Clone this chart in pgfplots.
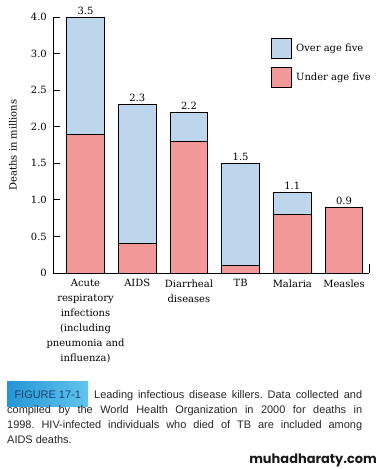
\documentclass[border=0pt]{standalone}
\usepackage{fontspec}
\setmainfont{DejaVu Serif}
\newfontfamily\capfont{Liberation Sans}
\newfontfamily\wmfont{Poppins}
\usepackage{pgfplots}
\usepackage{pgfplotstable}
\pgfplotsset{compat=1.18}
\definecolor{overblue}{HTML}{BDD6EC}
\definecolor{underpink}{HTML}{F29898}
\definecolor{figdark}{HTML}{2596D6}
\definecolor{figlight}{HTML}{62C4EE}
\definecolor{figtext}{HTML}{17457A}

\pgfplotstableread{
x under over total
0 1.9 1.6 3.5
1 0.4 1.9 2.3
2 1.8 0.4 2.2
3 0.1 1.4 1.5
4 0.8 0.3 1.1
5 0.9 0.0 0.9
}\deaths

\pgfplotsset{
  commonframe/.style={
    at={(53bp,196bp)}, anchor=south west,
    scale only axis, width=316bp, height=256bp,
    xmin=-0.629, xmax=5.483, ymin=0, ymax=3.5,
  }
}

\begin{document}
\begin{tikzpicture}
\path[use as bounding box] (0bp,0bp) rectangle (384bp,469bp);
\begin{axis}[
  commonframe,
  ybar stacked, bar width=37.5bp,
  axis x line*=bottom, axis y line*=left,
  axis line style={line width=0.9bp, black},
  xtick=data,
  xticklabels={{Acute\\respiratory\\infections\\(including\\pneumonia and\\influenza)},AIDS,{Diarrheal\\diseases},TB,Malaria,Measles},
  xtick style={draw=none},
  xticklabel style={align=center, font=\fontsize{10}{15}\selectfont, yshift=-3bp},
  ytick={0,0.5,1,1.5,2,2.5,3,3.5},
  yticklabels={0,0.5,1.0,1.5,2.0,2.5,3.0,4.0},
  tick align=inside, major tick length=7bp,
  ytick style={line width=0.9bp, black},
  yticklabel style={font=\fontsize{10}{12}\selectfont, inner xsep=6bp},
  /pgf/number format/assume math mode=true,
  ylabel={Deaths in millions},
  ylabel style={at={(axis description cs:-0.1266,0.5)}, anchor=center, font=\fontsize{10}{12}\selectfont},
  legend style={draw=none, fill=none, at={(rel axis cs:0.69,0.918)}, anchor=north west,
     inner sep=0pt, row sep=8bp, font=\fontsize{10}{12}\selectfont,
     nodes={inner sep=0pt},
     /tikz/every odd column/.append style={column sep=4bp}},
  legend cell align=left,
  legend image code/.code={\draw[#1, line width=0.9bp] (0bp,-10bp) rectangle (20bp,10bp);},
  reverse legend,
  after end axis/.code={\draw[line width=0.9bp] (rel axis cs:1,0) -- ([yshift=9bp]rel axis cs:1,0);},
]
\addplot[fill=underpink, draw=black, line width=0.9bp] table[x=x, y=under] {\deaths};
\addlegendentry{Under age five}
\addplot[fill=overblue, draw=black, line width=0.9bp] table[x=x, y=over] {\deaths};
\addlegendentry{Over age five}
\end{axis}
\begin{axis}[
  commonframe, hide axis,
]
\addplot[draw=none, mark=none, only marks,
  nodes near coords, point meta=explicit symbolic,
  every node near coord/.append style={text=black, anchor=south, font=\fontsize{10}{12}\selectfont, inner sep=2.5bp}]
  table[x=x, y=total, meta=total] {\deaths};
\end{axis}
\node[anchor=base west, inner xsep=0pt, minimum width=81bp, text height=13.5bp, text depth=4.5bp,
  left color=figdark, right color=figlight, text=figtext, font=\capfont\fontsize{11}{15}\selectfont]
  at (7bp,70.5bp) {FIGURE 17-1};
\node[anchor=north west, inner sep=0pt, text width=355bp, align=justify,
  font=\capfont\fontsize{11}{15}\selectfont, text=black!85] at (7bp,84bp)
  {\frenchspacing\hyphenpenalty=10000\makebox[81bp][l]{\rule{0pt}{13.5bp}}\hspace{6bp}Leading infectious disease killers. Data collected and\linebreak
   compiled by the World Health Organization in 2000 for deaths in\linebreak
   1998. HIV-infected individuals who died of TB are included among\linebreak
   AIDS deaths.};
\node[anchor=base east, inner sep=0pt, font=\wmfont\bfseries\fontsize{13}{13}\selectfont, text=black!90]
  at (377bp,6bp) {muhadharaty.com};
\end{tikzpicture}
\end{document}
